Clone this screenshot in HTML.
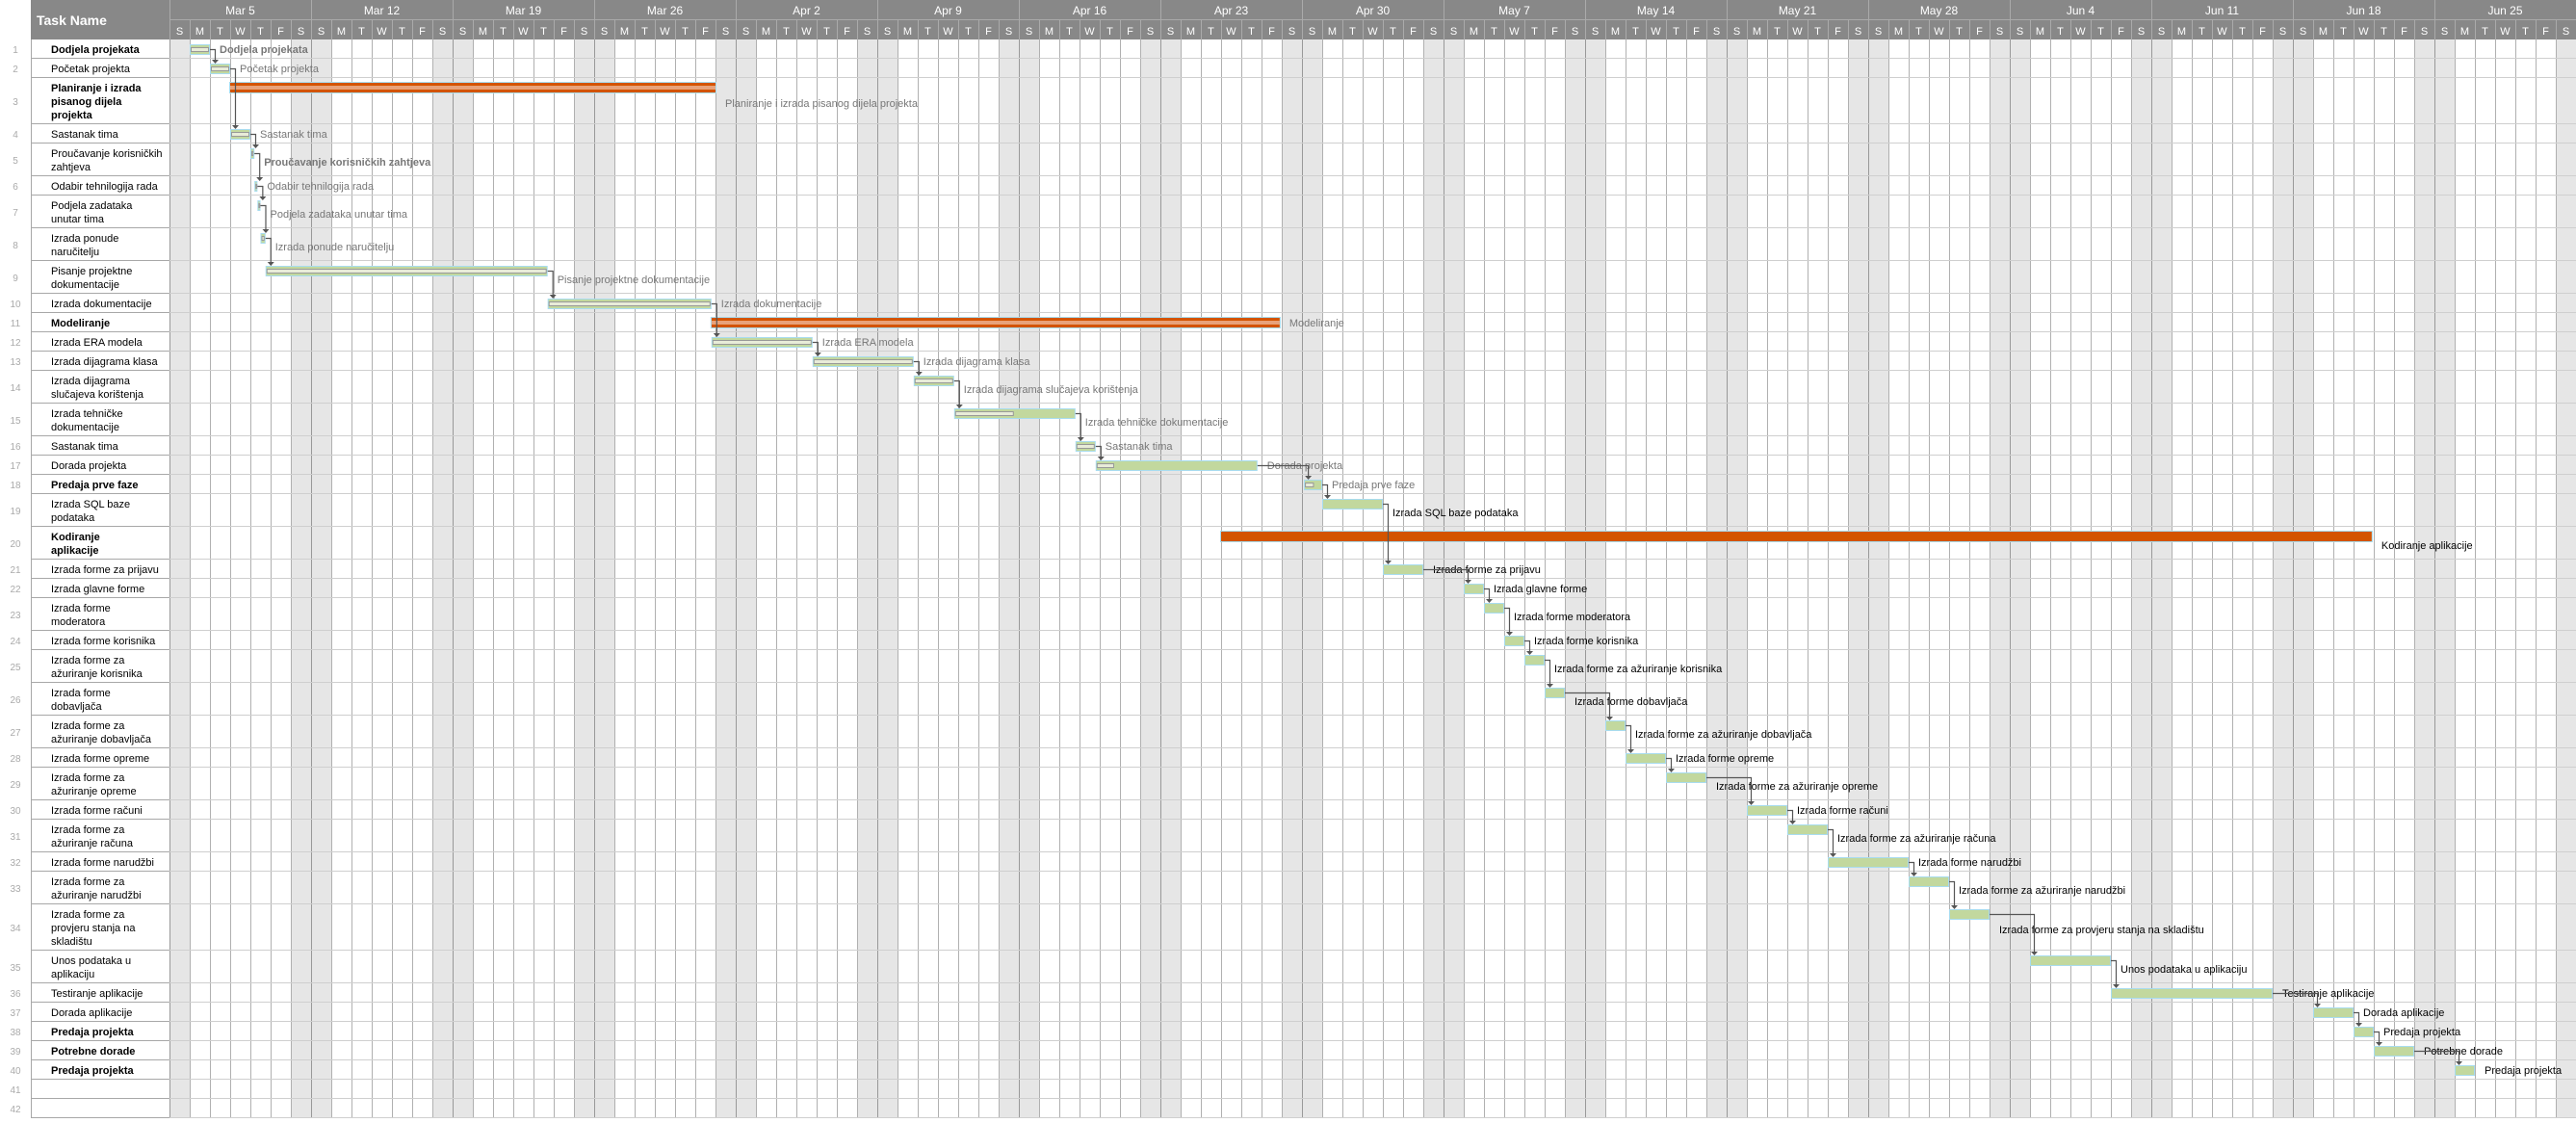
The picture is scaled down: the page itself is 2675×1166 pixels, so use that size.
<!DOCTYPE html>
<html><head><meta charset="utf-8">
<style>
body{margin:0;width:2675px;height:1161px;overflow:hidden;background:#fff;font-family:"Liberation Sans","DejaVu Sans",sans-serif;}
svg text{font-family:"Liberation Sans","DejaVu Sans",sans-serif;}
</style></head>
<body>
<svg id="chart" width="2675" height="1161" xmlns="http://www.w3.org/2000/svg"></svg>
<script>
const taskNames = [
 ["Dodjela projekata"],["Početak projekta"],["Planiranje i izrada","pisanog dijela","projekta"],["Sastanak tima"],
 ["Proučavanje korisničkih","zahtjeva"],["Odabir tehnilogija rada"],["Podjela zadataka","unutar tima"],["Izrada ponude","naručitelju"],
 ["Pisanje projektne","dokumentacije"],["Izrada dokumentacije"],["Modeliranje"],["Izrada ERA modela"],["Izrada dijagrama klasa"],
 ["Izrada dijagrama","slučajeva korištenja"],["Izrada tehničke","dokumentacije"],["Sastanak tima"],["Dorada projekta"],["Predaja prve faze"],
 ["Izrada SQL baze","podataka"],["Kodiranje","aplikacije"],["Izrada forme za prijavu"],["Izrada glavne forme"],["Izrada forme","moderatora"],
 ["Izrada forme korisnika"],["Izrada forme za","ažuriranje korisnika"],["Izrada forme","dobavljača"],["Izrada forme za","ažuriranje dobavljača"],
 ["Izrada forme opreme"],["Izrada forme za","ažuriranje opreme"],["Izrada forme računi"],["Izrada forme za","ažuriranje računa"],
 ["Izrada forme narudžbi"],["Izrada forme za","ažuriranje narudžbi"],["Izrada forme za","provjeru stanja na","skladištu"],
 ["Unos podataka u","aplikaciju"],["Testiranje aplikacije"],["Dorada aplikacije"],["Predaja projekta"],["Potrebne dorade"],["Predaja projekta"],[],[]
];
const boldRows = [1,3,11,18,20,38,39,40];
const barLabels = ["Dodjela projekata","Početak projekta","Planiranje i izrada pisanog dijela projekta","Sastanak tima","Proučavanje korisničkih zahtjeva","Odabir tehnilogija rada","Podjela zadataka unutar tima","Izrada ponude naručitelju","Pisanje projektne dokumentacije","Izrada dokumentacije","Modeliranje","Izrada ERA modela","Izrada dijagrama klasa","Izrada dijagrama slučajeva korištenja","Izrada tehničke dokumentacije","Sastanak tima","Dorada projekta","Predaja prve faze","Izrada SQL baze podataka","Kodiranje aplikacije","Izrada forme za prijavu","Izrada glavne forme","Izrada forme moderatora","Izrada forme korisnika","Izrada forme za ažuriranje korisnika","Izrada forme dobavljača","Izrada forme za ažuriranje dobavljača","Izrada forme opreme","Izrada forme za ažuriranje opreme","Izrada forme računi","Izrada forme za ažuriranje računa","Izrada forme narudžbi","Izrada forme za ažuriranje narudžbi","Izrada forme za provjeru stanja na skladištu","Unos podataka u aplikaciju","Testiranje aplikacije","Dorada aplikacije","Predaja projekta","Potrebne dorade","Predaja projekta"];
// start day index (0 = Sun Mar 4) and durations in days
const taskStart = [1,2,3,3,4,4.2,4.35,4.5,4.75,18.7,26.8,26.8,31.8,36.8,38.8,44.8,45.8,56.1,57,52,60,64,65,66,67,68,71,72,74,78,80,82,86,88,92,96,106,108,109,113];
const taskDur   = [1,1,24,1,0.2,0.15,0.15,0.25,13.95,8.1,28.1,5,5,2,6,1,8,0.9,3,56.9,2,1,1,1,1,1,1,2,2,2,2,4,2,2,4,8,2,1,2,1];
const taskProgress = [1,1,1,1,1,1,1,1,1,1,1,1,1,1,0.5,1,0.12,0.6,0,0,0,0,0,0,0,0,0,0,0,0,0,0,0,0,0,0,0,0,0,0];
const summaryRows = [3,11,20];
const weekLabels = ["Mar 5","Mar 12","Mar 19","Mar 26","Apr 2","Apr 9","Apr 16","Apr 23","Apr 30","May 7","May 14","May 21","May 28","Jun 4","Jun 11","Jun 18","Jun 25"];
const dayLetters = ["S","M","T","W","T","F","S"];
const depFrom = [1,2,4,5,6,7,8,9,10,12,13,14,15,16,17,18,19,21,22,23,24,25,26,27,28,29,30,31,32,33,34,35,36,37,38,39];
const depTo   = [2,4,5,6,7,8,9,10,12,13,14,15,16,17,18,19,21,22,23,24,25,26,27,28,29,30,31,32,33,34,35,36,37,38,39,40];

const NS="http://www.w3.org/2000/svg";
const svg=document.getElementById('chart');
const GX=176, DW=21, HDR=41, TOTAL_DAYS=119;
const xDay=d=>GX+d*DW;
function mk(tag,attrs,parent){const e=document.createElementNS(NS,tag);for(const k in attrs)e.setAttribute(k,attrs[k]);(parent||svg).appendChild(e);return e;}
const heights=taskNames.map(n=>n.length<=1?20:(n.length==2?34:48));
const rowTop=[];let acc=HDR;heights.forEach(h=>{rowTop.push(acc);acc+=h;});

const grid=mk('g',{});


for(let d=0;d<TOTAL_DAYS;d++){
  if(d%7==0||d%7==6){mk('rect',{x:xDay(d),y:HDR,width:DW,height:1161-HDR,fill:'#e6e6e6'},grid);}
}
for(let d=0;d<=TOTAL_DAYS;d++){mk('line',{x1:xDay(d)+0.5,y1:HDR,x2:xDay(d)+0.5,y2:1161,stroke:d%7==0?'#999':'#b0b0b0','stroke-width':1},grid);}
rowTop.forEach((t,i)=>{const y=t+heights[i]-0.5;mk('line',{x1:GX,y1:y,x2:2675,y2:y,stroke:'#cfcfcf'},grid);mk('line',{x1:32,y1:y,x2:GX,y2:y,stroke:'#a8a8a8'},grid);});
mk('line',{x1:32.5,y1:HDR,x2:32.5,y2:1161,stroke:'#a8a8a8'},grid);

const hdr=mk('g',{});


mk('rect',{x:32,y:0,width:2643,height:HDR,fill:'#888'},hdr);
const tn=mk('text',{x:38,y:26,fill:'#fff','font-size':14,'font-weight':'bold'},hdr);tn.textContent='Task Name';


mk('line',{x1:GX+0.5,y1:0,x2:GX+0.5,y2:HDR,stroke:'#aaa'},hdr);
mk('line',{x1:GX,y1:20.5,x2:2675,y2:20.5,stroke:'#aaa'},hdr);
weekLabels.forEach((w,i)=>{
  const x0=xDay(i*7);
  mk('line',{x1:x0+0.5,y1:0,x2:x0+0.5,y2:HDR,stroke:'#aaa'},hdr);
  const t=mk('text',{x:x0+DW*3.5,y:15,fill:'#fff','font-size':12,'text-anchor':'middle'},hdr);t.textContent=w;
  
  
});
for(let d=0;d<TOTAL_DAYS;d++){
  mk('line',{x1:xDay(d)+0.5,y1:21,x2:xDay(d)+0.5,y2:HDR,stroke:'#aaa'},hdr);
  const t=mk('text',{x:xDay(d)+DW/2,y:36,fill:'#fff','font-size':11,'text-anchor':'middle'},hdr);t.textContent=dayLetters[d%7];
  
  
}

taskNames.forEach((lines,i)=>{
  const g=mk('g',{});
  
  
  const n=mk('text',{x:16,y:rowTop[i]+(lines.length>1?heights[i]/2+4:14),fill:'#aaa','font-size':10,'text-anchor':'middle'},g);n.textContent=i+1;
  const bold=boldRows.includes(i+1);
  lines.forEach((l,j)=>{
    const t=mk('text',{x:53,y:rowTop[i]+14+j*14,fill:'#000','font-size':11,'font-weight':bold?'bold':'normal'},g);t.textContent=l;
  });
});

const bars=mk('g',{});
const barTop=i=>rowTop[i]+5;
taskStart.forEach((s,i)=>{
  const row=i+1, x=xDay(s), w=Math.max(taskDur[i]*DW,3), y=barTop(i);
  const g=mk('g',{},bars);
  
  
  if(summaryRows.includes(row)){
    mk('rect',{x:x,y:y,width:w,height:10,fill:'#d35400'},g);
    if(taskProgress[i]>0) mk('rect',{x:x,y:y+3,width:w*taskProgress[i],height:4,fill:'#e8a27a'},g);
    mk('rect',{x:x-0.5,y:y-0.5,width:w+1,height:11,fill:'none',stroke:'#a8dcef'},g);
  } else {
    mk('rect',{x:x+0.5,y:y+0.5,width:w-1,height:10,fill:'#c2d89e',stroke:'#a8dcef'},g);
    if(taskProgress[i]>0) mk('rect',{x:x+1.5,y:y+3.5,width:Math.max(w*taskProgress[i]-3,1),height:4,fill:'#e8ecd8',stroke:'#999'},g);
  }
  const lh=heights[i];
  const ly=lh>20?rowTop[i]+lh/2+6:rowTop[i]+14;
  const gray=row<=18;
  const lbl=mk('text',{x:x+w+10,y:ly,fill:gray?'#777':'#000','font-size':11,'font-weight':(row==1||row==5)?'bold':'normal'},g);
  lbl.textContent=barLabels[i];
});

const deps=mk('g',{});


depFrom.forEach((f,k)=>{
  const a=f-1,b=depTo[k]-1;
  const ex=xDay(taskStart[a]+taskDur[a]), ey=barTop(a)+5;
  const sx=Math.max(xDay(taskStart[b])+4, ex+5), sy=barTop(b);
  mk('path',{d:`M${ex} ${ey+0.5}H${sx+0.5}V${sy-3}`,fill:'none',stroke:'#555','stroke-width':1.2},deps);
  mk('path',{d:`M${sx-3} ${sy-4}L${sx+4} ${sy-4}L${sx+0.5} ${sy}Z`,fill:'#555'},deps);
});
</script>
</body></html>
